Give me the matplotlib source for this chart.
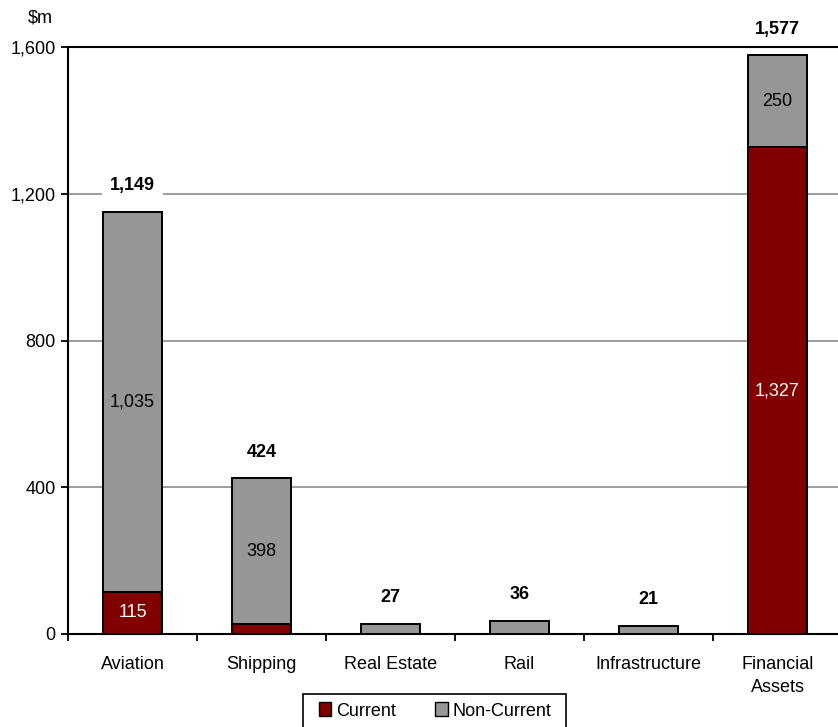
import matplotlib
matplotlib.use("Agg")
import matplotlib.pyplot as plt
from matplotlib.patches import Patch, Rectangle
import numpy as np

plt.rcParams['font.family'] = ['Liberation Sans', 'DejaVu Sans']

categories = ["Aviation", "Shipping", "Real Estate", "Rail", "Infrastructure", "Financial\nAssets"]
current = [115, 26, 0, 0, 0, 1327]
noncurrent = [1035, 398, 27, 36, 21, 250]
totals = [1149, 424, 27, 36, 21, 1577]
current_labels = ["115", "", "", "", "", "1,327"]
noncurrent_labels = ["1,035", "398", "", "", "", "250"]
yticks = [0, 400, 800, 1200, 1600]
ytick_labels = ["0", "400", "800", "1,200", "1,600"]

C_CUR = "#800000"
C_NON = "#969696"
FS = 13

fig = plt.figure(figsize=(8.38, 7.27), dpi=100)
ax = fig.add_axes([68/838, 93/727, 774/838, 587/727])

x = np.arange(len(categories))
w = 0.465
ax.bar(x, current, w, color=C_CUR, edgecolor="black", linewidth=1.4, zorder=3)
ax.bar(x, noncurrent, w, bottom=current, color=C_NON, edgecolor="black", linewidth=1.4, zorder=3)

for i in range(len(categories)):
    if current_labels[i]:
        ax.text(x[i], current[i] / 2, current_labels[i], ha="center", va="center",
                color="white", fontsize=FS, zorder=4)
    if noncurrent_labels[i]:
        ax.text(x[i], current[i] + noncurrent[i] / 2, noncurrent_labels[i], ha="center",
                va="center", color="black", fontsize=FS, zorder=4)
    ax.annotate(f"{totals[i]:,}", (x[i], current[i] + noncurrent[i]), xytext=(0, 19),
                textcoords="offset points", ha="center", va="center", fontsize=FS,
                fontweight="bold", zorder=5, annotation_clip=False,
                bbox=dict(facecolor="white", edgecolor="none", pad=5.5))

ax.set_xlim(-0.5, len(categories) - 0.5)
ax.set_ylim(0, 1600)
ax.set_yticks(yticks)
ax.set_yticklabels(ytick_labels, fontsize=FS)
ax.yaxis.grid(True, color="#8c8c8c", linewidth=1.2, zorder=0)
ax.set_axisbelow(True)

ax.set_xticks(x)
ax.set_xticklabels(categories, fontsize=FS, linespacing=1.45)
ax.set_xticks(np.arange(len(categories) + 1) - 0.5, minor=True)
ax.tick_params(axis="x", which="major", length=0, pad=16)
ax.tick_params(axis="x", which="minor", length=5, width=1.3, direction="out")
ax.tick_params(axis="y", length=5, width=1.3, direction="out", pad=4)

for s in ["left", "bottom", "top"]:
    ax.spines[s].set_linewidth(1.5)
    ax.spines[s].set_color("black")
ax.spines["right"].set_visible(False)

fig.text(40/838, 1 - 18/727, "$m", ha="center", va="center", fontsize=FS)

handles = [Patch(facecolor=C_CUR, edgecolor="black", linewidth=1.0, label="Current"),
           Patch(facecolor=C_NON, edgecolor="black", linewidth=1.0, label="Non-Current")]
leg = fig.legend(handles=handles, loc="center left", bbox_to_anchor=(319/838, 1 - 711/727),
                 ncol=2, fontsize=FS, frameon=False, handlelength=0.68,
                 handleheight=0.8, handletextpad=0.25, columnspacing=2.2,
                 borderpad=0, borderaxespad=0)
fig.patches.append(Rectangle((303/838, -0.02), 263/838, (727-694)/727 + 0.02,
                             transform=fig.transFigure, fill=False, edgecolor="black",
                             linewidth=1.2))

fig.savefig("out.png", dpi=100)
